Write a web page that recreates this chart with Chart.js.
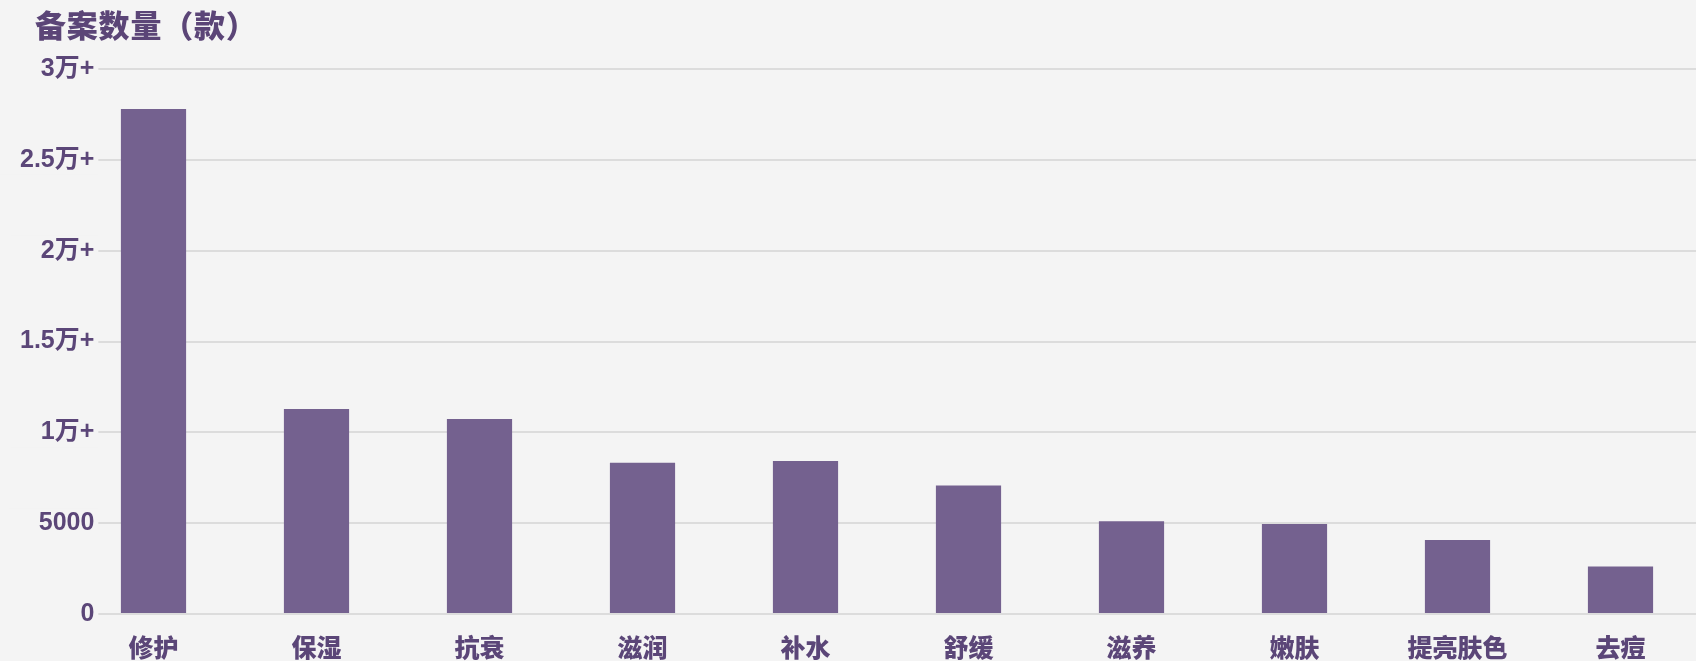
<!DOCTYPE html>
<html>
<head>
<meta charset="utf-8">
<script src="https://cdn.jsdelivr.net/npm/chart.js@4"></script>
<style>
	html, body { margin: 0; padding: 0; overflow: hidden; background: #f4f4f4; }
	#wrap { position: relative; width: 1702px; height: 661px; }
	#title {
		position: absolute; left: 35px; top: 1px;
		font: 900 31px 'Noto Sans CJK SC', sans-serif; color: #5b4577;
		letter-spacing: 0.8px; white-space: nowrap;
	}
</style>
</head>
<body>
<div id="wrap">
	<canvas id="myChart" width="1702" height="661"></canvas>
	<div id="title">备案数量（款）</div>
</div>
<script>
// 데이터
const categories = ['修护', '保湿', '抗衰', '滋润', '补水', '舒缓', '滋养', '嫩肤', '提亮肤色', '去痘'];
const filingCounts = [27800, 11280, 10730, 8330, 8420, 7070, 5110, 4960, 4080, 2620];
const yTickValues = [0, 5000, 10000, 15000, 20000, 25000, 30000];
const yTickLabels = ['0', '5000', '1万+', '1.5万+', '2万+', '2.5万+', '3万+'];

const barColor = '#74618f';
const textColor = '#5b4678';
const gridColor = '#dcdcdc';

const ctx = document.getElementById('myChart');
new Chart(ctx, {
	type: 'bar',
	data: {
		labels: categories,
		datasets: [{
			data: filingCounts,
			backgroundColor: barColor,
			barPercentage: 0.4,
			categoryPercentage: 1
		}]
	},
	options: {
		responsive: false,
		animation: false,
		layout: { padding: { top: 69, left: 0, right: 0, bottom: 0 } },
		plugins: {
			legend: { display: false },
			tooltip: { enabled: false }
		},
		scales: {
			x: {
				grid: { display: false },
				border: { display: false },
				ticks: {
					color: textColor,
					padding: 10,
					maxRotation: 0,
					autoSkip: false,
					font: { family: "'Noto Sans CJK SC', sans-serif", size: 25, weight: 900 }
				},
				afterFit: s => { s.height = 47; }
			},
			y: {
				min: 0,
				max: 30000,
				border: { display: false },
				grid: { color: gridColor, lineWidth: 2, drawTicks: false },
				afterBuildTicks: s => { s.ticks = yTickValues.map(v => ({ value: v })); },
				afterFit: s => { s.width = 72; },
				ticks: {
					color: textColor,
					mirror: true,
					crossAlign: 'far',
					padding: -52,
					font: { family: "'Liberation Sans', 'Noto Sans CJK SC', sans-serif", size: 25, weight: 'bold' },
					showLabelBackdrop: true,
					backdropColor: '#f4f4f4',
					backdropPadding: { left: 30, right: 4, top: 0, bottom: 0 },
					callback: (value) => {
						const i = yTickValues.indexOf(value);
						return i >= 0 ? yTickLabels[i] : '';
					}
				}
			}
		}
	}
});
</script>
</body>
</html>
